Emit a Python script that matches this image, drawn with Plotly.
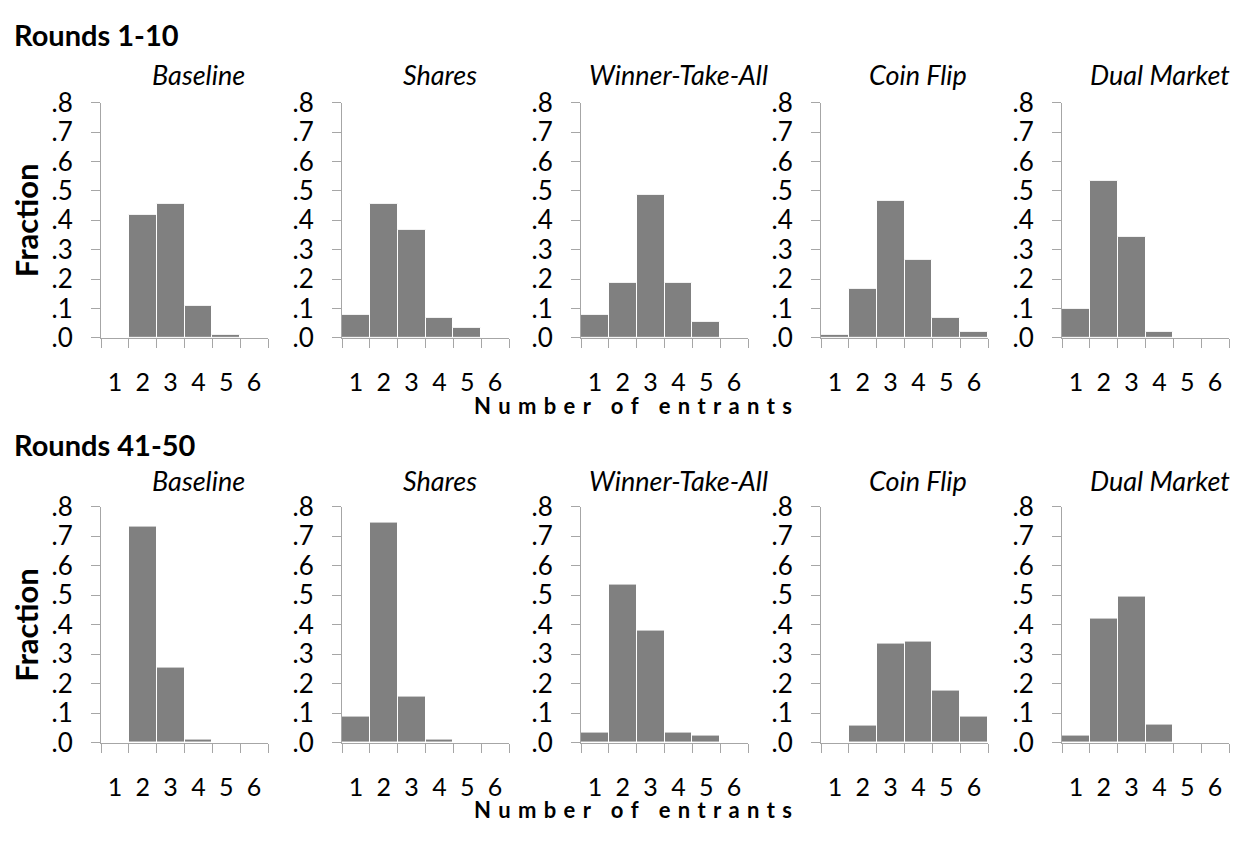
import plotly.graph_objects as go

# ---------------- data ----------------
categories = [1, 2, 3, 4, 5, 6]
tick_labels = ["1", "2", "3", "4", "5", "6"]
y_ticks = [0.0, 0.1, 0.2, 0.3, 0.4, 0.5, 0.6, 0.7, 0.8]
y_tick_labels = [".0", ".1", ".2", ".3", ".4", ".5", ".6", ".7", ".8"]
treatments = ["Baseline", "Shares", "Winner-Take-All", "Coin Flip", "Dual Market"]
row_titles = ["Rounds 1-10", "Rounds 41-50"]
x_title = "Number of entrants"

r1_baseline = [0.0, 0.42, 0.455, 0.11, 0.01, 0.0]
r1_shares = [0.078, 0.456, 0.367, 0.067, 0.034, 0.0]
r1_wta = [0.078, 0.187, 0.487, 0.187, 0.054, 0.0]
r1_coin = [0.011, 0.167, 0.467, 0.266, 0.067, 0.022]
r1_dual = [0.10, 0.533, 0.345, 0.022, 0.0, 0.0]

r41_baseline = [0.0, 0.732, 0.255, 0.01, 0.0, 0.0]
r41_shares = [0.087, 0.745, 0.155, 0.01, 0.0, 0.0]
r41_wta = [0.033, 0.534, 0.379, 0.034, 0.023, 0.0]
r41_coin = [0.0, 0.056, 0.334, 0.344, 0.177, 0.087]
r41_dual = [0.024, 0.421, 0.494, 0.06, 0.0, 0.0]

rows = [
    [r1_baseline, r1_shares, r1_wta, r1_coin, r1_dual],
    [r41_baseline, r41_shares, r41_wta, r41_coin, r41_dual],
]

# ---------------- layout geometry (pixels in the 1243x841 page) ----------------
PAGE_MARGIN = 8            # default <body> margin of the html page
W, H = 1243 - 2 * PAGE_MARGIN, 841 - 2 * PAGE_MARGIN
panel_left = [101, 342, 581, 821, 1062]
panel_w = 167
row_top = [89, 509]          # pixel of y=0.8
row_bottom = [333.5, 754.5]  # pixel of y=0
row_title_y = [18, 444]
panel_title_y = [59, 482]
xlabel_y = [404, 824]
ylabel_y = [211, 632]

FONT = "Lato"
AX = "#A6A6A6"
BAR = "#808080"


def px_x(p):
    return (p - PAGE_MARGIN) / W


def px_y(p):
    return 1 - (p - PAGE_MARGIN) / H


def spaced(text):
    # wide letter-spacing as in the reference axis title
    words = text.split(" ")
    return "\u2004\u2004 ".join("\u2004".join(w) for w in words)


fig = go.Figure()
annotations = []

for r in range(2):
    for c in range(5):
        n = r * 5 + c + 1
        xa = "x" if n == 1 else f"x{n}"
        ya = "y" if n == 1 else f"y{n}"
        fig.add_trace(go.Bar(
            x=categories, y=rows[r][c], width=1,
            marker=dict(color=BAR, line=dict(color="white", width=1)),
            xaxis=xa, yaxis=ya, showlegend=False, hoverinfo="x+y",
        ))
        xkey = "xaxis" if n == 1 else f"xaxis{n}"
        ykey = "yaxis" if n == 1 else f"yaxis{n}"
        L = panel_left[c]
        fig.update_layout({
            xkey: dict(
                domain=[px_x(L), px_x(L + panel_w)], anchor=ya,
                range=[0.5, 6.5], showgrid=False, zeroline=False,
                showline=True, linecolor=AX, linewidth=1,
                tickmode="array", tickvals=categories, ticktext=tick_labels,
                ticks="", ticklabelstandoff=22,
                tickfont=dict(family=FONT, size=25, color="black"),
                minor=dict(tickmode="array", tickvals=[k + 0.5 for k in range(0, 7)],
                           ticks="outside", ticklen=9, tickcolor=AX, tickwidth=1),
                fixedrange=True,
            ),
            ykey: dict(
                domain=[px_y(row_bottom[r]), px_y(row_top[r])], anchor=xa,
                range=[0, 0.8], showgrid=False, zeroline=False,
                showline=True, linecolor=AX, linewidth=1,
                tickmode="array", tickvals=y_ticks, ticktext=y_tick_labels,
                ticks="outside", ticklen=9, tickcolor=AX, tickwidth=1,
                ticklabelstandoff=13,
                tickfont=dict(family=FONT, size=26, color="black"),
                fixedrange=True,
            ),
        })
        annotations.append(dict(
            text=f"<i>{treatments[c]}</i>", xref="paper", yref="paper",
            x=px_x(L + panel_w / 2 + 14), y=px_y(panel_title_y[r]),
            xanchor="center", yanchor="middle", showarrow=False,
            font=dict(family=FONT, size=27, color="black"),
        ))
    annotations.append(dict(
        text=f"<b>{row_titles[r]}</b>", xref="paper", yref="paper",
        x=px_x(12), y=px_y(row_title_y[r]), xanchor="left", yanchor="middle",
        showarrow=False, font=dict(family=FONT, size=29, color="black"),
    ))
    annotations.append(dict(
        text="<b>Fraction</b>", xref="paper", yref="paper",
        x=px_x(26), y=px_y(ylabel_y[r]), xanchor="center", yanchor="middle",
        textangle=-90, showarrow=False,
        font=dict(family=FONT, size=31, color="black"),
    ))
    annotations.append(dict(
        text=f"<b>{spaced(x_title)}</b>", xref="paper", yref="paper",
        x=px_x(633), y=px_y(xlabel_y[r]), xanchor="center", yanchor="middle",
        showarrow=False, font=dict(family=FONT, size=22, color="black"),
    ))

fig.update_layout(
    width=W, height=H, margin=dict(l=0, r=0, t=0, b=0),
    paper_bgcolor="white", plot_bgcolor="white",
    bargap=0, annotations=annotations, showlegend=False,
)

fig.write_html("out.html")
